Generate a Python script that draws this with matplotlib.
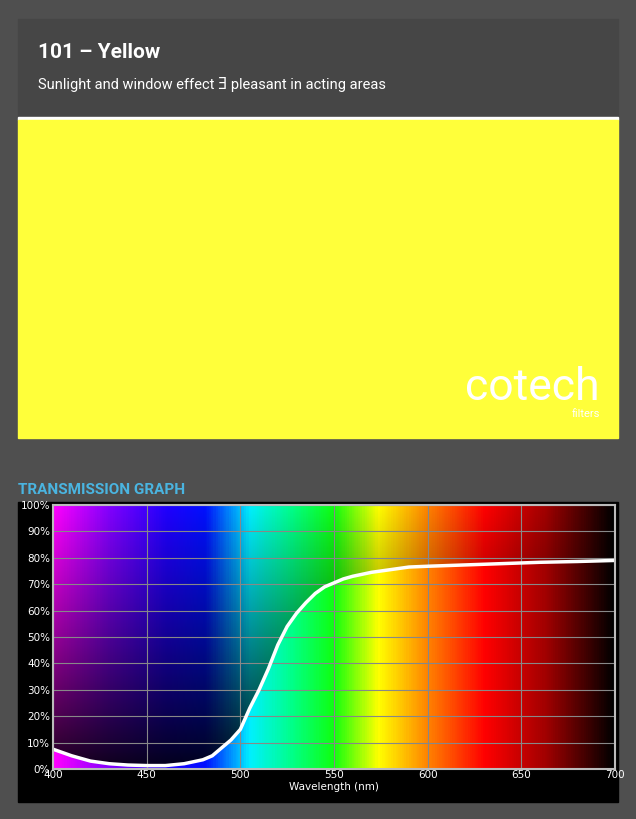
import numpy as np
import matplotlib
matplotlib.use("Agg")
import matplotlib.pyplot as plt
from matplotlib.colors import LinearSegmentedColormap
from matplotlib.patches import Rectangle

title = "101 – Yellow"
subtitle = "Sunlight and window effect \u018e pleasant in acting areas"
wavelength = [400, 410, 420, 430, 440, 450, 460, 470, 480, 485, 490, 495, 500, 505, 510, 515, 520,
              525, 530, 535, 540, 545, 550, 555, 560, 570, 580, 590, 600, 620, 640, 660, 680, 700]
transmission = [7.5, 5, 3, 2, 1.5, 1.3, 1.3, 2, 3.5, 5, 8, 11, 15, 23, 30, 38, 47,
                54, 59, 63, 66.5, 69, 70.5, 72, 73, 74.5, 75.5, 76.5, 76.8, 77.3, 77.8, 78.3, 78.6, 79]
x_ticks = [400, 450, 500, 550, 600, 650, 700]
y_ticks = list(range(0, 101, 10))

W, H = 636, 819
fig = plt.figure(figsize=(W/100, H/100), dpi=100)
fig.patch.set_facecolor("#4f4f4f")

def fx(px): return px / W
def fy(py): return 1 - py / H

bg = fig.add_axes([0, 0, 1, 1]); bg.set_xlim(0, W); bg.set_ylim(H, 0); bg.axis("off")
bg.add_patch(Rectangle((18, 19), 600, 98, color="#464646"))
bg.add_patch(Rectangle((18, 117), 600, 3, color="white"))
bg.add_patch(Rectangle((18, 120), 600, 318, color="#ffff3a"))
bg.add_patch(Rectangle((18, 502), 600, 300, color="black"))
bg.text(38, 53, title, color="white", fontsize=15, fontweight="bold", family="Roboto", va="center")
bg.text(38, 84, subtitle, color="white", fontsize=10.5, family=["Roboto", "DejaVu Sans"], va="center")
bg.text(600, 388, "cotech", color="white", fontsize=32, family="Roboto", ha="right", va="center")
bg.text(600, 414, "filters", color="white", fontsize=8, family="Roboto", ha="right", va="center")
bg.text(18, 490, "TRANSMISSION GRAPH", color="#4ab4e0", fontsize=11, fontweight="bold", family="Roboto", va="center")

ax = fig.add_axes([fx(53), fy(769), fx(615-53), (769-505)/H])
spec = LinearSegmentedColormap.from_list("spec", [
    (0.0, "#ff00ff"), (0.1, "#8000ff"), (0.2, "#2000ff"), (0.27, "#0010ff"), (0.35, "#00f0ff"),
    (0.42, "#00ff90"), (0.5, "#10ff10"), (0.58, "#ffff00"), (0.67, "#ff8000"), (0.77, "#ff0000"),
    (0.88, "#a00000"), (1.0, "#000000")])
xs = np.linspace(400, 700, 600)
ys = np.linspace(0, 100, 300)
X, Y = np.meshgrid(xs, ys)
base = spec((X - 400) / 300)[..., :3]
curve = np.interp(xs, wavelength, transmission)
bright = np.clip(0.1 + 0.9 * (Y / 100) ** 0.9, 0, 1)
bright = np.where(Y < curve[None, :], 1.0, bright)
img = base * bright[..., None]
ax.imshow(img, extent=[400, 700, 0, 100], origin="lower", aspect="auto")
ax.plot(wavelength, transmission, color="white", lw=2.5)
ax.set_xlim(400, 700); ax.set_ylim(0, 100)
ax.set_xticks(x_ticks); ax.set_yticks(y_ticks)
ax.set_yticklabels([f"{v}%" for v in y_ticks])
ax.grid(True, color="#888888", lw=0.8)
ax.tick_params(colors="white", labelsize=7.5, length=0, pad=2)
ax.tick_params(axis="x", pad=1)
for s in ax.spines.values():
    s.set_color("#bbbbbb"); s.set_linewidth(1.5)
ax.set_xlabel("Wavelength (nm)", color="white", fontsize=7.5, labelpad=1)
fig.savefig("out.png", dpi=100, facecolor=fig.get_facecolor())
